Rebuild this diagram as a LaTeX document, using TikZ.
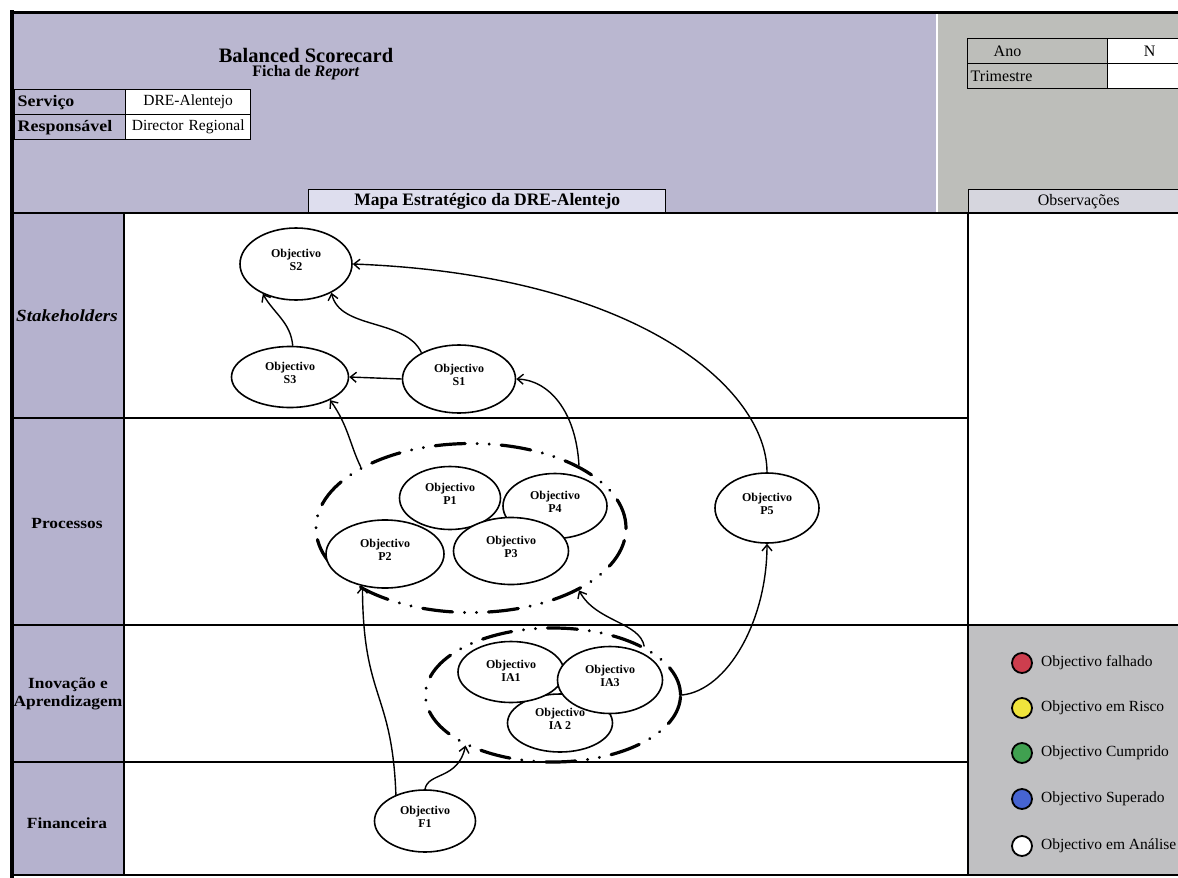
\documentclass[tikz,border=0pt]{standalone}
\usepackage{fontspec}
\setmainfont{Liberation Serif}
\newfontfamily\widefam[FakeStretch=1.12]{Liberation Serif}
\usetikzlibrary{shapes.geometric,arrows.meta}
\definecolor{lav}{RGB}{186,183,208}
\definecolor{lavcol}{RGB}{181,178,206}
\definecolor{greyhd}{RGB}{189,190,186}
\definecolor{mapabox}{RGB}{222,222,238}
\definecolor{obsbox}{RGB}{214,214,222}
\definecolor{legbox}{RGB}{192,192,194}
\definecolor{lred}{RGB}{205,62,78}
\definecolor{lyellow}{RGB}{240,228,60}
\definecolor{lgreen}{RGB}{64,160,80}
\definecolor{lblue}{RGB}{70,100,210}
\tikzset{
  gridline/.style={line width=1.2pt},
  cell/.style={draw, line width=1.4pt, minimum height=25pt, inner sep=0pt, anchor=north west, font=\fontsize{15.5}{17}\selectfont},
  obj/.style={ellipse, draw, line width=1.6pt, fill=white, inner sep=0pt},
  objtxt/.style={align=center, font=\fontsize{12}{13.5}\selectfont\bfseries, inner sep=0pt, yshift=4pt},
  grp/.style={ellipse, draw, line width=3.2pt, line cap=round, dash pattern=on 30pt off 12pt on 0.01pt off 12pt on 0.01pt off 12pt, inner sep=0pt},
  arr/.style={line width=1.4pt, -{Straight Barb[length=6pt,width=10pt,line width=1.4pt]}},
  rowlbl/.style={align=center, font=\fontsize{15.5}{18}\widefam\bfseries},
  legdot/.style={circle, draw, line width=1.8pt, minimum size=20pt, inner sep=0pt},
  legtxt/.style={anchor=west, font=\fontsize{15.5}{17}\selectfont, inner sep=0pt},
}
\begin{document}
\begin{tikzpicture}[x=1pt,y=-1pt]
\useasboundingbox (0,0) rectangle (1178,878);
% backgrounds
\fill[lav] (12,12) rectangle (937,213);
\fill[greyhd] (937,12) rectangle (1178,213);
\draw[white, line width=1.5pt] (937,12) -- (937,213);
\fill[lavcol] (12,213) rectangle (124,875);
\fill[white] (124,213) rectangle (968,875);
\fill[white] (968,213) rectangle (1178,625);
\fill[legbox] (968,625) rectangle (1178,875);
% header
\node[font=\fontsize{20.5}{22}\selectfont\bfseries] (title) at (306,55) {Balanced Scorecard};
\node[font=\fontsize{16}{18}\selectfont\bfseries] (sub) at (306,73) {Ficha de \textit{Report}};
\node[cell, minimum width=111pt, text width=107pt, align=left, font=\fontsize{16}{18}\widefam\bfseries] (svl) at (14,89) {\hspace{1pt}Serviço};
\node[cell, fill=white, minimum width=125pt, text width=125pt, align=center] (svv) at (125,89) {DRE-Alentejo};
\node[cell, minimum width=111pt, text width=107pt, align=left, font=\fontsize{16}{18}\widefam\bfseries] (rpl) at (14,114) {\hspace{1pt}Responsável};
\node[cell, fill=white, minimum width=125pt, text width=125pt, align=center] (rpv) at (125,114) {Director Regional};
\node[cell, minimum width=140pt, text width=136pt, align=left, font=\fontsize{16}{18}\selectfont] (anol) at (967,38) {\hspace{24pt}Ano};
\node[cell, fill=white, minimum width=84pt, text width=84pt, align=center, font=\fontsize{16}{18}\selectfont] (anov) at (1107,38) {N};
\node[cell, minimum width=140pt, text width=136pt, align=left, font=\fontsize{16}{18}\selectfont] (tril) at (967,63) {\hspace{1pt}Trimestre};
\node[cell, fill=white, minimum width=84pt, text width=84pt, align=center] (triv) at (1107,63) {};
\node[cell, fill=mapabox, minimum width=357pt, minimum height=24pt, font=\fontsize{17.5}{19}\selectfont\bfseries] (mapa) at (308,189) {Mapa Estratégico da DRE-Alentejo};
\node[cell, fill=obsbox, minimum width=220pt, minimum height=24pt, font=\fontsize{16}{18}\selectfont] (obs) at (968,189) {Observações};
% grid lines
\draw[gridline] (12,213) -- (1178,213);
\draw[gridline] (12,418) -- (968,418);
\draw[gridline] (12,625) -- (968,625);
\draw[line width=2pt] (968,625) -- (1178,625);
\draw[gridline] (12,762) -- (968,762);
\draw[gridline] (12,875) -- (1178,875);
\draw[gridline] (124,213) -- (124,875);
\draw[gridline] (968,213) -- (968,875);
\draw[line width=4pt] (12,10) -- (12,878);
\draw[line width=3pt] (10,12) -- (1178,12);
% row labels
\node[rowlbl, font=\fontsize{17}{19}\widefam\bfseries\itshape] (lst) at (67,316) {Stakeholders};
\node[rowlbl] (lpr) at (67,523) {Processos};
\node[rowlbl] (lia) at (68,694) {Inovação e\\Aprendizagem};
\node[rowlbl] (lfi) at (67,823) {Financeira};
% groups
\node[grp, minimum width=310pt, minimum height=169pt] (PG) at (471,528) {};
\node[grp, minimum width=255pt, minimum height=134pt] (IAG) at (553,695) {};
% objectives
\node[obj, minimum width=112pt, minimum height=72pt, label={[objtxt]center:Objectivo\\S2}] (S2) at (296,264) {};
\node[obj, minimum width=117pt, minimum height=61pt, label={[objtxt]center:Objectivo\\S3}] (S3) at (290,377) {};
\node[obj, minimum width=113pt, minimum height=68pt, label={[objtxt]center:Objectivo\\S1}] (S1) at (459,379) {};
\node[obj, minimum width=101pt, minimum height=63pt, label={[objtxt]center:Objectivo\\P1}] (P1) at (450,498) {};
\node[obj, minimum width=104pt, minimum height=65pt, label={[objtxt]center:Objectivo\\P4}] (P4) at (555,506) {};
\node[obj, minimum width=118pt, minimum height=68pt, label={[objtxt]center:Objectivo\\P2}] (P2) at (385,554) {};
\node[obj, minimum width=115pt, minimum height=67pt, label={[objtxt]center:Objectivo\\P3}] (P3) at (511,551) {};
\node[obj, minimum width=104pt, minimum height=70pt, label={[objtxt]center:Objectivo\\P5}] (P5) at (767,508) {};
\node[obj, minimum width=105pt, minimum height=58pt, label={[objtxt]center:Objectivo\\IA 2}] (IA2) at (560,723) {};
\node[obj, minimum width=106pt, minimum height=61pt, label={[objtxt, yshift=-3pt]center:Objectivo\\IA1}] (IA1) at (511,672) {};
\node[obj, minimum width=105pt, minimum height=67pt, label={[objtxt]center:Objectivo\\IA3}] (IA3) at (610,680) {};
\node[obj, minimum width=101pt, minimum height=62pt, label={[objtxt]center:Objectivo\\F1}] (F1) at (425,821) {};
% connectors
\draw[arr] (S3.85) to[out=95,in=-60] (S2.222);
\draw[arr] (S1.145) .. controls (405,318) and (340,330) .. (S2.-39);
\draw[arr] (S1.west) -- (S3.east);
\draw[arr] (P5.north) .. controls (767,390) and (640,275) .. (S2.east);
\draw[arr] (PG.151) .. controls (350,445) and (348,425) .. (S3.-30);
\draw[arr] (PG.30) .. controls (576,410) and (548,380) .. (S1.east);
\draw[arr] (F1.138) .. controls (392,690) and (363,700) .. (P2.235);
\draw[arr] (F1.north) .. controls (428,772) and (458,780) .. (IAG.210);
\draw[arr] (IAG.28) .. controls (640,622) and (596,622) .. (PG.-30);
\draw[arr] (IAG.east) .. controls (728,690) and (767,620) .. (P5.south);
% legend
\node[legdot, fill=lred] (d1) at (1022,663) {};
\node[legdot, fill=lyellow] (d2) at (1022,708) {};
\node[legdot, fill=lgreen] (d3) at (1022,753) {};
\node[legdot, fill=lblue] (d4) at (1022,799) {};
\node[legdot, fill=white] (d5) at (1022,846) {};
\node[legtxt] (t1) at ([xshift=8pt]d1.east) {Objectivo falhado};
\node[legtxt] (t2) at ([xshift=8pt]d2.east) {Objectivo em Risco};
\node[legtxt] (t3) at ([xshift=8pt]d3.east) {Objectivo Cumprido};
\node[legtxt] (t4) at ([xshift=8pt]d4.east) {Objectivo Superado};
\node[legtxt] (t5) at ([xshift=8pt]d5.east) {Objectivo em Análise};
\end{tikzpicture}
\end{document}
